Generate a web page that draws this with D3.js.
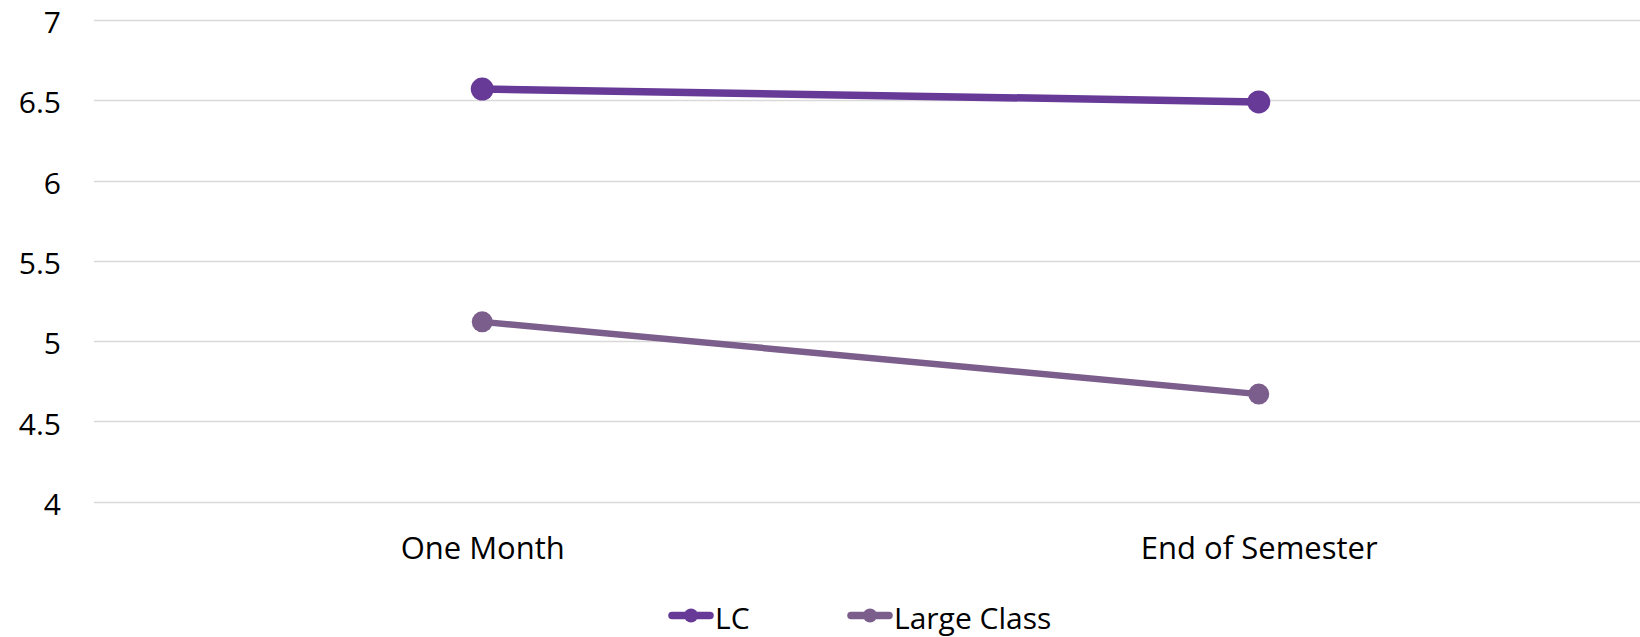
<!DOCTYPE html>
<html>
<head>
<meta charset="utf-8">
<script src="https://cdn.jsdelivr.net/npm/d3@7"></script>
<style>
  html, body { margin: 0; padding: 0; background: #fff; }
  svg { display: block; }
  text { font-family: "Open Sans", sans-serif; fill: #000; }
</style>
</head>
<body>
<svg id="chart" width="1640" height="637"></svg>
<script>
// Survey points and series
const categories = ["One Month", "End of Semester"];
const seriesNames = ["LC", "Large Class"];
const lcValues = [6.57, 6.49];
const largeClassValues = [5.12, 4.67];
const yTicks = [4, 4.5, 5, 5.5, 6, 6.5, 7];
const colors = ["#673a98", "#7b5e8b"];

const series = [
  { name: seriesNames[0], values: lcValues, color: colors[0], width: 7.5, r: 11.5 },
  { name: seriesNames[1], values: largeClassValues, color: colors[1], width: 6.5, r: 10.5 }
];

const svg = d3.select("#chart");
const plot = { left: 94, right: 1647, top: 20, bottom: 501.7 };

const x = d3.scalePoint().domain(categories).range([plot.left, plot.right]).padding(0.5);
const y = d3.scaleLinear().domain([4, 7]).range([plot.bottom, plot.top]);

// Horizontal gridlines
svg.append("g")
  .selectAll("line")
  .data(yTicks)
  .join("line")
  .attr("x1", plot.left)
  .attr("x2", 1640)
  .attr("y1", d => Math.round(y(d)) + 0.5)
  .attr("y2", d => Math.round(y(d)) + 0.5)
  .attr("stroke", "#d9d9d9")
  .attr("stroke-width", 1.5);

// Y axis labels
const yAxis = d3.axisLeft(y).tickValues(yTicks).tickSize(0).tickPadding(0).tickFormat(d3.format("~g"));
const yg = svg.append("g").attr("transform", "translate(61,0)").call(yAxis);
yg.select(".domain").remove();
yg.selectAll("text")
  .attr("font-size", 30)
  .attr("font-family", "'Open Sans', sans-serif")
  .attr("fill", "#000")
  .attr("dy", "0.42em");

// X axis labels
const xAxis = d3.axisBottom(x).tickSize(0).tickPadding(0);
const xg = svg.append("g").attr("transform", "translate(0,537)").call(xAxis);
xg.select(".domain").remove();
xg.selectAll("text")
  .attr("font-size", 31)
  .attr("font-family", "'Open Sans', sans-serif")
  .attr("fill", "#000")
  .attr("dy", "0.71em");

// Series lines and markers
const line = d3.line().x((d, i) => x(categories[i])).y(d => y(d));
series.slice().reverse().forEach(s => {
  const g = svg.append("g");
  g.append("path")
    .attr("d", line(s.values))
    .attr("fill", "none")
    .attr("stroke", s.color)
    .attr("stroke-width", s.width)
    .attr("stroke-linecap", "round");
  g.selectAll("circle")
    .data(s.values)
    .join("circle")
    .attr("cx", (d, i) => x(categories[i]))
    .attr("cy", d => y(d))
    .attr("r", s.r)
    .attr("fill", s.color);
});

// Legend
const legendItems = [
  { s: series[0], x0: 669 },
  { s: series[1], x0: 848 }
];
const legendY = 615.5;
legendItems.forEach(({ s, x0 }) => {
  const g = svg.append("g");
  g.append("line")
    .attr("x1", x0 + 3).attr("x2", x0 + 41)
    .attr("y1", legendY).attr("y2", legendY)
    .attr("stroke", s.color).attr("stroke-width", 7.5)
    .attr("stroke-linecap", "round");
  g.append("circle")
    .attr("cx", x0 + 22).attr("cy", legendY).attr("r", 7)
    .attr("fill", s.color);
  g.append("text")
    .attr("x", x0 + 46)
    .attr("y", 628.5)
    .attr("font-size", 30)
    .text(s.name);
});
</script>
</body>
</html>
